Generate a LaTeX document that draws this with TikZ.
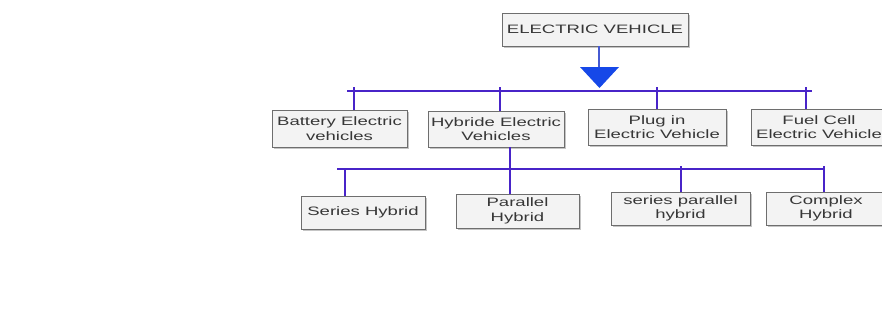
\documentclass[tikz,border=0pt]{standalone}
\usepackage{fontspec}
\usetikzlibrary{shadows}
\newfontfamily\evfont[FakeStretch=1.52]{Liberation Sans}
\definecolor{boxfill}{RGB}{243,243,243}
\definecolor{boxline}{RGB}{110,110,110}
\definecolor{txt}{RGB}{55,55,55}
\definecolor{bus}{RGB}{72,36,200}
\definecolor{stem}{RGB}{70,90,210}
\definecolor{tri}{RGB}{22,72,232}
\begin{document}
\begin{tikzpicture}[x=1pt,y=-1pt,
  box/.style={draw=boxline, fill=boxfill, line width=0.9pt, align=center, inner sep=0pt,
    text=txt, font=\evfont\fontsize{12.2}{14.5}\selectfont,
    drop shadow={shadow xshift=1.8pt, shadow yshift=-1.8pt, fill=black!45, opacity=0.5}},
  busline/.style={draw=bus, line width=2.8pt}]
\useasboundingbox (0,0) rectangle (882,329);
\fill[white] (0,0) rectangle (882,329);
\begin{scope}
\clip (0,0) rectangle (882,329);
% top node
\node[box, minimum width=186pt, minimum height=33pt] (ev) at (595,29.5) {ELECTRIC VEHICLE};
% second row
\node[box, minimum width=135pt, minimum height=37pt] (bev) at (339.5,128.5) {Battery Electric\\vehicles};
\node[box, minimum width=136pt, minimum height=36pt] (hev) at (496,129) {Hybride Electric\\Vehicles};
\node[box, minimum width=138pt, minimum height=36pt] (pev) at (657,127) {Plug in\\Electric Vehicle};
\node[box, minimum width=136pt, minimum height=36pt] (fcev) at (819,127) {Fuel Cell\\Electric Vehicle};
% third row
\node[box, minimum width=124pt, minimum height=33pt] (sh) at (363,212.5) {Series Hybrid};
\node[box, minimum width=123pt, minimum height=34pt] (ph) at (517.5,211) {Parallel\\Hybrid};
\node[box, minimum width=139pt, minimum height=33pt] (sph) at (680.5,208.5) {series parallel\\hybrid};
\node[box, minimum width=120pt, minimum height=33pt] (ch) at (826,208.5) {Complex\\Hybrid};
% arrow from top node
\coordinate (stemtop) at ([xshift=4pt]ev.south);
\coordinate (tritop) at (599,67);
\draw[draw=stem, line width=2.5pt] (stemtop) -- (tritop);
\fill[tri] (580,67) -- (619,67) -- (599.5,88) -- cycle;
% first bus
\coordinate (b1l) at (347,91);
\coordinate (b1r) at (812,91);
\draw[busline] (b1l) -- (b1r);
\draw[busline] ([xshift=14.5pt]bev.north) -- ++(0,-23);
\draw[busline] ([xshift=4pt]hev.north) -- ++(0,-24);
\draw[busline] ([xshift=0pt]pev.north) -- ++(0,-22);
\draw[busline] ([xshift=-13pt]fcev.north) -- ++(0,-22);
% second bus
\coordinate (b2l) at (337,169);
\coordinate (b2r) at (824,169);
\draw[busline] ([xshift=14pt]hev.south) -- ++(0,26);
\draw[busline] (b2l) -- (b2r);
\draw[busline] ([xshift=-18pt]sh.north) -- ++(0,-27.5);
\draw[busline] ([xshift=-7.5pt]ph.north) -- ++(0,-25);
\draw[busline] ([xshift=0.5pt]sph.north) -- ++(0,-26);
\draw[busline] ([xshift=-2pt]ch.north) -- ++(0,-26);
\end{scope}
\end{tikzpicture}
\end{document}
